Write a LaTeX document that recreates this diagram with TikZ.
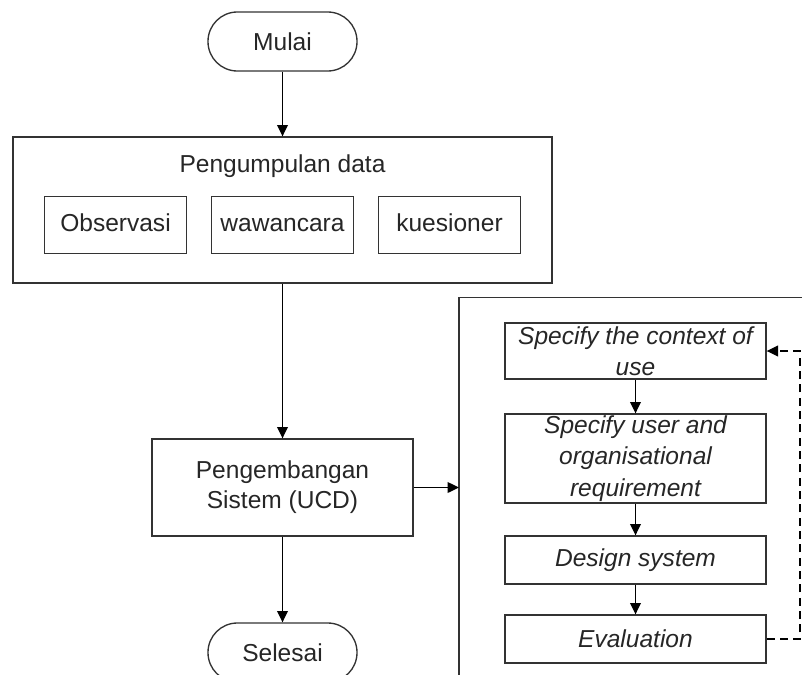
\documentclass[tikz,border=0pt]{standalone}
\usepackage{fontspec}
\setmainfont{Liberation Sans}
\usetikzlibrary{arrows.meta}
\begin{document}
\begin{tikzpicture}[x=0.75pt,y=-0.75pt,
  every node/.style={font=\fontsize{18.4}{22.5}\selectfont, text=black!85, inner sep=0pt, align=center},
  box/.style={draw=black!80, line width=1pt, fill=white},
  term/.style={box, minimum width=111.75pt, minimum height=44.25pt, rounded corners=22pt},
  sub/.style={box, minimum width=106.5pt, minimum height=42.75pt, text height=13.3pt, text depth=3.9pt},
  ucd/.style={box, minimum width=195.75pt, font=\fontsize{18.4}{23.5}\selectfont\itshape},
  conn/.style={draw=black, line width=1pt, -{Triangle[length=8.5pt,width=8pt]}},
  loopback/.style={conn, dash pattern=on 6pt off 4pt}
]
\useasboundingbox (0,0) rectangle (802,674);
\clip (0,0) rectangle (802,674);
\fill[white] (0,0) rectangle (802,674);

% left column
\node[term] (mulai) at (282.5,41.5) {Mulai};
\node[box, minimum width=404.25pt, minimum height=109.5pt] (kumpul) at (282.5,210) {};
\node (kumpultitle) at (282.5,166) {Pengumpulan data};
\node[sub] (obs) at (115.5,225) {Observasi};
\node[sub] (waw) at (282.5,225) {wawancara};
\node[sub] (kue) at (449.5,225) {kuesioner};
\node[box, minimum width=195.75pt, minimum height=72.75pt] (kembang) at (282.5,487.5) {Pengembangan\\Sistem (UCD)};
\node[term] (selesai) at (282.5,652.5) {Selesai};

% right frame (extends beyond the picture edges)
\draw[draw=black!80, line width=1pt] (459,700) -- (459,297.5) -- (830,297.5);
\coordinate (frameleft) at (459,487.5);

% UCD steps
\node[ucd, minimum height=42pt] (ctx) at (635.5,351) {Specify the context of\\use};
\node[ucd, minimum height=66.75pt] (req) at (635.5,458.5) {Specify user and\\organisational\\requirement};
\node[ucd, minimum height=36pt] (des) at (635.5,560) {Design system};
\node[ucd, minimum height=36pt] (eva) at (635.5,639) {Evaluation};
\coordinate (loopc) at (800,351);

% connectors
\draw[conn] (mulai) -- (kumpul);
\draw[conn] (kumpul) -- (kembang);
\draw[conn] (kembang) -- (selesai);
\draw[conn] (kembang.east) -- (frameleft);
\draw[conn] (ctx) -- (req);
\draw[conn] (req) -- (des);
\draw[conn] (des) -- (eva);
\draw[loopback] (eva.east) -| (loopc) -- (ctx.east);
\end{tikzpicture}
\end{document}
